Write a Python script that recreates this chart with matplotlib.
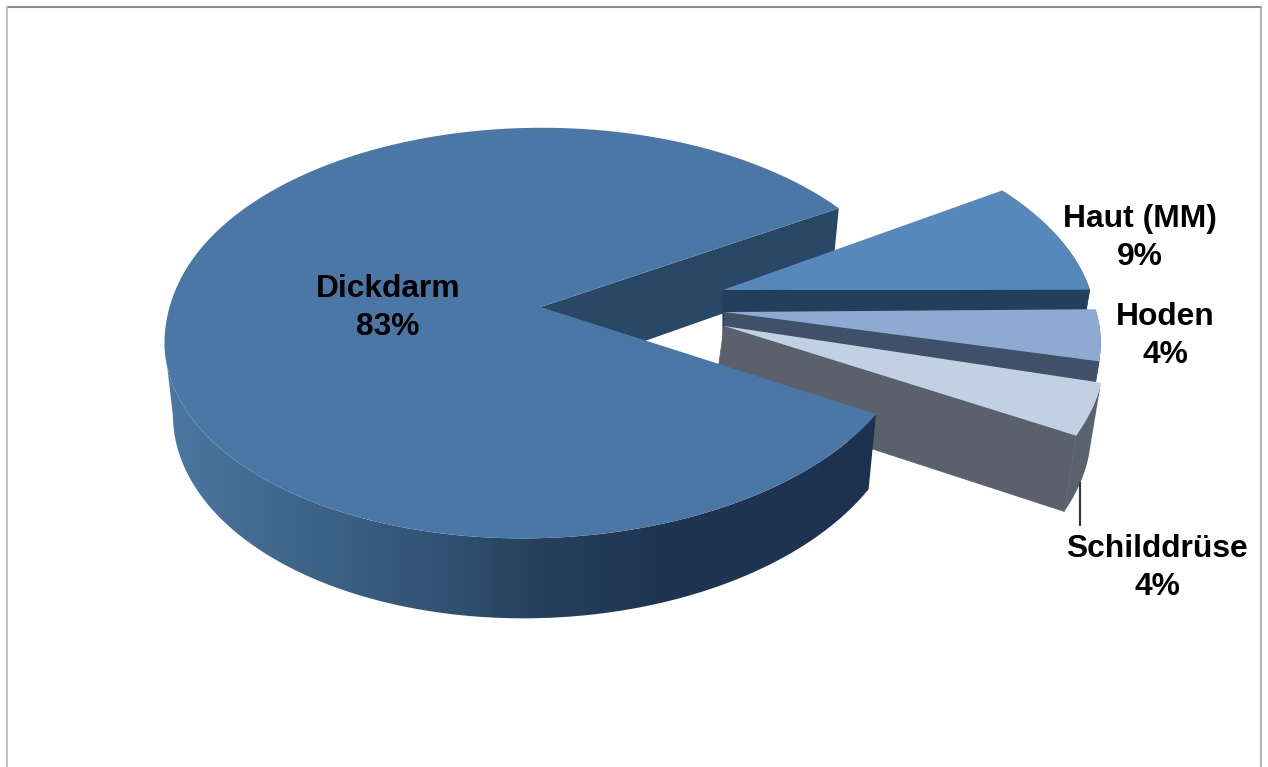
import numpy as np
import matplotlib
matplotlib.use("Agg")
import matplotlib.pyplot as plt
from matplotlib.colors import to_rgb

# organ share of the cases, in percent
organs = ['Dickdarm', 'Haut (MM)', 'Hoden', 'Schilddrüse']
shares = [83, 9, 4, 4]

# look of each slice
top_colors = ['#4b77a6', '#5788bc', '#8faad2', '#c3d0e4']
face_colors = ['#2a4866', '#243f5b', '#3f5168', '#5b616c']
side_colors = [None, '#243f5b', '#3f5168', '#5a626d']
explode_x = [0, 0.495, 0.494, 0.492]
explode_y = [0, 0.085, -0.025, -0.093]
turn = [0.4, 1.5, 2.2, 0.45]
inner_lean = [0, 0, 0, 10]
label_x = [388, 1140, 1165, 1157]
label_y = [308, 238, 336, 568]

# gradient on the rim of the big slice, left to right
rim_x = [165, 300, 450, 530, 650, 880]
rim_colors = ['#4b78a2', '#3e6588', '#305172', '#26425e', '#1f3653', '#1d324f']

# pie placement in pixels and a small perspective
X0, Y0 = 542, 307
RX, RY = 371, 202
PERSP = 0.127
SKEW = 19
START = 31.0


def project(x, y):
    w = 1 + PERSP * y
    # the near half leans a little to the left, fading out towards the back
    lean = SKEW * (np.sqrt(y * y + 0.15 ** 2) - y) / 2
    return X0 + RX * x / w - lean, Y0 - RY * y / w


def drop(px, py):
    # the lower edge of the pie sits a bit narrower and further down
    return X0 + 0.978 * (px - X0), py + 75 + 0.04 * (py - 415)


def rim(a0, a1, ex, ey, n=80):
    t = np.radians(np.linspace(a0, a1, n))
    return project(ex + np.cos(t), ey + np.sin(t))


fig = plt.figure(figsize=(12.68, 7.67), dpi=100)
ax = fig.add_axes([0, 0, 1, 1])

# frame, no line along the bottom
ax.plot([6.5, 1261], [6.5, 6.5], color='#8c8c8c', lw=1.5)
ax.plot([6.5, 6.5], [6.5, 767], color='#bdbdbd', lw=1.3)
ax.plot([1261, 1261], [6.5, 767], color='#a8a8a8', lw=1.3)

# small slices run clockwise from the start angle, the big one the other way round
edges = START - 3.6 * np.cumsum([0] + shares[1:])
starts = np.r_[START, edges[:-1]] + np.array(turn)
ends = np.r_[START + 3.6 * shares[0], edges[1:]] + np.array(turn)

# back wall of the gap in the big slice
ax_main, ay_main = project(0, 0)
sx, sy = rim(starts[0], starts[0], 0, 0, 1)
bx, by = drop(sx[0], sy[0])
ax2, ay2 = drop(ax_main, ay_main)
ax.fill([ax_main, sx[0], bx, ax2], [ay_main, sy[0], by, ay2],
        color=face_colors[0], lw=0)

# small slices from back to front
for i in [1, 2, 3]:
    ex, ey = explode_x[i], explode_y[i]
    px, py = project(ex, ey)
    tx, ty = rim(starts[i], ends[i], ex, ey)
    lx, ly = drop(tx, ty)
    ax.fill(np.r_[tx, lx[::-1]], np.r_[ty, ly[::-1]],
            color=side_colors[i], lw=0)
    qy = drop(px, py)[1]
    ax.fill([px, tx[-1], lx[-1], px - inner_lean[i]], [py, ty[-1], ly[-1], qy],
            color=face_colors[i], lw=0.5)
    ax.fill(np.r_[px, tx], np.r_[py, ty], color=top_colors[i], lw=0)

# big slice: shaded rim first, flat top over it
# the rim stops at the left silhouette so the clip shape does not fold over itself
tx, ty = rim(ends[0], ends[0] - 140, 0, 0, 240)
lx, ly = drop(tx, ty)
outline = ax.fill(np.r_[tx, lx[::-1]], np.r_[ty, ly[::-1]], color='none', lw=0)[0]
xs = np.arange(150, 900)
rgb = np.array([to_rgb(c) for c in rim_colors])
band = np.stack([np.interp(xs, rim_x, rgb[:, i]) for i in range(3)], axis=-1)[None, :, :]
shade = ax.imshow(band, extent=(150, 900, 700, 100), aspect='auto',
                  interpolation='bilinear', zorder=1)
shade.set_clip_path(outline)

tx, ty = rim(starts[0], ends[0], 0, 0, 400)
ax.fill(np.r_[ax_main, tx], np.r_[ay_main, ty], color=top_colors[0], lw=0)

# leader line for the last label
ax.plot([1080, 1080], [483, 525], color='#333a42', lw=1.6)

for name, share, x, y in zip(organs, shares, label_x, label_y):
    ax.text(x, y, f'{name}\n{share}%', ha='center', va='center',
            family='Liberation Sans', weight='bold', fontsize=22.9,
            color='black', linespacing=1.32)

ax.set_xlim(0, 1268)
ax.set_ylim(767, 0)
ax.axis('off')

fig.savefig('out.png', dpi=100)
